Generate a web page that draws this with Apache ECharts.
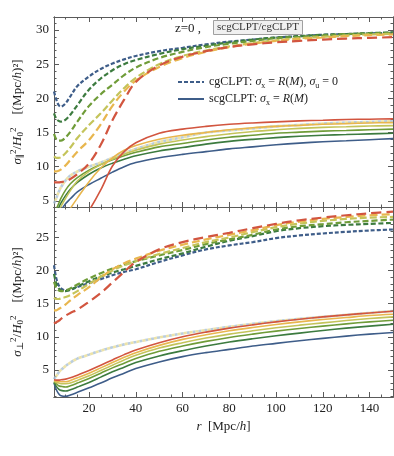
<!DOCTYPE html>
<html>
<head>
<meta charset="utf-8">
<script src="https://cdn.jsdelivr.net/npm/echarts@6/dist/echarts.min.js"></script>
<style>
  html, body { margin: 0; padding: 0; background: #fff; }
  #chart { width: 394px; height: 456px; }
</style>
</head>
<body>
<div id="chart"></div>
<script>
// separation r [Mpc/h]
const r = [5, 6, 7, 8, 10, 12, 15, 20, 25, 30, 35, 40, 50, 60, 70, 80, 90, 100, 110, 120, 130, 140, 150];

// order of every group: blue, dark green, green, yellow-green, yellow, red
// top panel, cgCLPT (dashed)
const parCg = [
  [21.0, 19.8, 19.0, 18.8, 19.3, 20.3, 21.8, 23.2, 24.3, 25.1, 25.7, 26.2, 26.9, 27.4, 27.9, 28.3, 28.6, 28.9, 29.1, 29.3, 29.4, 29.5, 29.6],
  [17.8, 17.0, 16.7, 16.6, 16.9, 17.6, 19.0, 21.3, 22.9, 24.1, 25.0, 25.6, 26.5, 27.2, 27.7, 28.2, 28.6, 28.9, 29.1, 29.3, 29.4, 29.55, 29.65],
  [14.8, 14.0, 13.8, 13.8, 14.3, 15.1, 16.6, 18.9, 20.6, 22.0, 23.4, 24.5, 25.9, 26.8, 27.5, 28.0, 28.4, 28.8, 29.0, 29.2, 29.4, 29.5, 29.6],
  [11.5, 11.3, 11.3, 11.4, 12.0, 12.8, 14.2, 16.1, 17.8, 19.7, 21.5, 23.0, 25.0, 26.2, 27.0, 27.6, 28.1, 28.5, 28.8, 29.0, 29.2, 29.35, 29.45],
  [9.3, 9.3, 9.4, 9.6, 10.2, 11.0, 12.2, 13.9, 16.2, 18.9, 21.0, 22.6, 24.6, 25.9, 26.8, 27.5, 28.0, 28.4, 28.7, 28.9, 29.1, 29.25, 29.35],
  [7.7, 7.7, 7.7, 7.75, 7.9, 8.2, 8.9, 10.5, 13.2, 16.8, 19.8, 22.4, 24.8, 26.1, 26.9, 27.5, 27.9, 28.2, 28.4, 28.6, 28.75, 28.85, 28.95]
];
// top panel, scgCLPT (solid)
const parScg = [
  [1.5, 2.3, 3.0, 3.6, 4.6, 5.3, 6.3, 7.4, 8.3, 9.2, 10.0, 10.6, 11.3, 11.8, 12.2, 12.6, 12.9, 13.2, 13.45, 13.65, 13.8, 13.95, 14.1],
  [2.5, 3.3, 4.0, 4.7, 5.8, 6.7, 7.7, 8.9, 9.8, 10.5, 11.1, 11.6, 12.3, 12.8, 13.3, 13.7, 14.0, 14.25, 14.45, 14.6, 14.7, 14.8, 14.9],
  [3.0, 3.8, 4.6, 5.4, 6.6, 7.5, 8.4, 9.5, 10.3, 11.0, 11.6, 12.1, 12.9, 13.4, 13.9, 14.3, 14.6, 14.9, 15.05, 15.2, 15.3, 15.4, 15.5],
  [2.0, 2.8, 3.5, 4.2, 5.4, 6.5, 7.9, 9.3, 10.3, 11.1, 11.8, 12.4, 13.3, 13.9, 14.4, 14.8, 15.15, 15.4, 15.6, 15.75, 15.85, 15.95, 16.0],
  [0.5, 1.0, 1.4, 1.8, 2.8, 3.9, 5.4, 7.8, 9.8, 11.3, 12.4, 13.1, 14.0, 14.6, 15.0, 15.4, 15.7, 15.9, 16.05, 16.2, 16.3, 16.4, 16.45],
  [-2.0, -1.7, -1.4, -1.1, -0.5, 0.2, 1.2, 3.6, 6.6, 10.1, 12.2, 13.5, 14.9, 15.5, 15.9, 16.2, 16.4, 16.55, 16.7, 16.8, 16.9, 16.95, 17.0]
];
// light overlapping curve, top panel
const parLight = [4.6, 5.4, 6.3, 7.0, 8.0, 8.7, 9.3, 10.0, 10.6, 11.3, 12.0, 12.6, 13.6, 14.3, 15.0, 15.3, 15.6, 15.9, 16.1, 16.3, 16.45, 16.55, 16.65];

// bottom panel, cgCLPT (dashed)
const perpCg = [
  [20.8, 18.8, 17.8, 17.3, 17.0, 17.1, 17.5, 18.1, 18.7, 19.3, 19.8, 20.2, 21.3, 22.3, 23.2, 23.8, 24.3, 24.9, 25.3, 25.6, 25.85, 26.05, 26.2],
  [19.5, 18.0, 17.3, 17.0, 16.9, 17.1, 17.6, 18.4, 19.1, 19.7, 20.2, 20.7, 21.7, 22.6, 23.6, 24.5, 25.2, 25.95, 26.4, 26.7, 26.9, 27.05, 27.2],
  [18.3, 17.4, 17.0, 16.9, 17.0, 17.3, 17.9, 18.8, 19.6, 20.3, 20.9, 21.4, 22.3, 23.1, 24.0, 24.7, 25.4, 26.2, 26.7, 27.0, 27.3, 27.5, 27.7],
  [15.9, 15.7, 15.7, 15.8, 16.0, 16.3, 16.9, 18.0, 19.1, 20.0, 20.8, 21.4, 22.5, 23.4, 24.3, 25.0, 25.8, 26.55, 27.1, 27.5, 27.8, 28.0, 28.1],
  [14.0, 14.0, 14.2, 14.4, 14.9, 15.5, 16.3, 17.5, 18.9, 20.2, 21.1, 21.8, 23.0, 23.9, 24.7, 25.4, 26.1, 26.85, 27.4, 27.8, 28.1, 28.35, 28.5],
  [12.0, 12.2, 12.4, 12.7, 13.2, 13.6, 14.1, 15.3, 16.6, 18.2, 19.8, 21.3, 23.2, 24.3, 25.05, 25.7, 26.4, 27.05, 27.6, 28.0, 28.35, 28.65, 28.9]
];
// bottom panel, scgCLPT (solid)
const perpScg = [
  [3.0, 2.0, 1.4, 1.1, 1.0, 1.2, 1.6, 2.3, 3.0, 3.8, 4.5, 5.2, 6.2, 7.0, 7.6, 8.1, 8.6, 9.0, 9.4, 9.75, 10.1, 10.4, 10.65],
  [3.1, 2.5, 2.1, 1.9, 1.8, 2.0, 2.4, 3.1, 3.9, 4.7, 5.4, 6.1, 7.1, 7.9, 8.6, 9.2, 9.7, 10.15, 10.55, 10.95, 11.3, 11.6, 11.9],
  [3.2, 2.9, 2.6, 2.5, 2.4, 2.6, 3.0, 3.7, 4.5, 5.3, 6.0, 6.7, 7.8, 8.6, 9.3, 9.9, 10.4, 10.85, 11.25, 11.6, 11.95, 12.25, 12.5],
  [3.3, 3.1, 3.0, 2.9, 2.9, 3.0, 3.4, 4.1, 4.9, 5.7, 6.5, 7.2, 8.3, 9.1, 9.8, 10.4, 10.9, 11.35, 11.75, 12.1, 12.45, 12.75, 13.0],
  [3.4, 3.3, 3.2, 3.2, 3.2, 3.4, 3.8, 4.5, 5.3, 6.1, 6.9, 7.6, 8.7, 9.6, 10.3, 10.9, 11.4, 11.85, 12.25, 12.6, 12.9, 13.2, 13.4],
  [3.5, 3.45, 3.45, 3.5, 3.6, 3.8, 4.2, 4.9, 5.7, 6.5, 7.3, 8.0, 9.1, 10.0, 10.7, 11.3, 11.8, 12.25, 12.65, 13.0, 13.3, 13.6, 13.85]
];
// light overlapping curve, bottom panel
const perpLight = [3.6, 4.1, 4.6, 5.0, 5.6, 6.1, 6.7, 7.3, 7.9, 8.4, 8.85, 9.2, 9.9, 10.5, 11.0, 11.5, 11.95, 12.35, 12.7, 13.0, 13.3, 13.6, 13.9];

const xMajor = [20, 40, 60, 80, 100, 120, 140];
const xMinor = [5, 10, 15, 25, 30, 35, 45, 50, 55, 65, 70, 75, 85, 90, 95, 105, 110, 115, 125, 130, 135, 145, 150];
const topMajor = [5, 10, 15, 20, 25, 30];
const botMajor = [5, 10, 15, 20, 25];

const colors = ['#3e5d89', '#3c7b3f', '#6f9c38', '#c4c45a', '#e8b64e', '#d2553f'];
const dashes = [[4, 2], [5, 2.5], [6, 3], [7, 3], [8, 4], [10, 5]];
const frame = '#5a5a5a';
const serif = "'Liberation Serif', 'DejaVu Serif', serif";

function range(a, b) {
  const out = [];
  for (let v = a; v <= b; v++) out.push(v);
  return out;
}

function xAxes(g, withLabels) {
  const base = {
    type: 'value', gridIndex: g, min: 5, max: 150,
    splitLine: { show: false },
    axisLine: { show: true, onZero: false, lineStyle: { color: frame, width: 1 } },
    axisLabel: { show: false }
  };
  const main = Object.assign({}, base, {
    position: 'bottom',
    axisTick: { inside: true, length: 5, customValues: xMajor, lineStyle: { color: frame } },
    axisLabel: { show: withLabels, customValues: xMajor, color: '#222', fontFamily: serif, fontSize: 13, margin: 5 }
  });
  if (withLabels) {
    main.name = '{i|r}  [Mpc/{i|h}]';
    main.nameLocation = 'middle';
    main.nameGap = 23;
    main.nameTextStyle = {
      fontFamily: serif, fontSize: 13, color: '#222',
      rich: { i: { fontStyle: 'italic', fontFamily: serif, fontSize: 13 } }
    };
  }
  return [
    main,
    Object.assign({}, base, { position: 'bottom', axisTick: { inside: true, length: 2.5, customValues: xMinor, lineStyle: { color: frame } } }),
    Object.assign({}, base, { position: 'top', axisTick: { inside: true, length: 5, customValues: xMajor, lineStyle: { color: frame } } }),
    Object.assign({}, base, { position: 'top', axisTick: { inside: true, length: 2.5, customValues: xMinor, lineStyle: { color: frame } } })
  ];
}

function yAxes(g, min, max, majors, sym) {
  const base = {
    type: 'value', gridIndex: g, min: min, max: max,
    splitLine: { show: false },
    axisLine: { show: true, onZero: false, lineStyle: { color: frame, width: 1 } },
    axisLabel: { show: false }
  };
  const minors = range(Math.ceil(min), Math.floor(max)).filter(v => majors.indexOf(v) < 0);
  const rich = {
    i: { fontStyle: 'italic', fontFamily: serif, fontSize: 13 },
    sup: { fontFamily: serif, fontSize: 9, verticalAlign: 'top' },
    sub: { fontFamily: serif, fontSize: 9, verticalAlign: 'bottom' }
  };
  return [
    Object.assign({}, base, {
      position: 'left',
      axisTick: { inside: true, length: 5, customValues: majors, lineStyle: { color: frame } },
      axisLabel: { show: true, customValues: majors, color: '#222', fontFamily: serif, fontSize: 13, margin: 5 },
      name: '{i|σ}{sub|' + sym + '}{sup|2}/{i|H}{sub|0}{sup|2}    [(Mpc/{i|h})²]',
      nameLocation: 'middle', nameRotate: 90, nameGap: 25,
      nameTextStyle: { fontFamily: serif, fontSize: 13, color: '#222', lineHeight: 16, rich: rich }
    }),
    Object.assign({}, base, { position: 'left', axisTick: { inside: true, length: 2.5, customValues: minors, lineStyle: { color: frame } } }),
    Object.assign({}, base, { position: 'right', axisTick: { inside: true, length: 5, customValues: majors, lineStyle: { color: frame } } }),
    Object.assign({}, base, { position: 'right', axisTick: { inside: true, length: 2.5, customValues: minors, lineStyle: { color: frame } } })
  ];
}

function curve(name, ys, g, color, type, width, extra) {
  return Object.assign({
    name: name, type: 'line', xAxisIndex: g * 4, yAxisIndex: g * 4,
    data: r.map((x, i) => [x, ys[i]]),
    smooth: 0.35, symbol: 'none', showSymbol: false, silent: true, clip: true,
    itemStyle: { color: color },
    lineStyle: { color: color, width: width, type: type, cap: 'butt' }
  }, extra || {});
}

const series = [];
[[parCg, parScg, parLight], [perpCg, perpScg, perpLight]].forEach(function (set, g) {
  series.push(curve('light-b' + g, set[2], g, '#a9c0d6', [3, 3], 2.6, { lineStyle: { color: '#a9c0d6', width: 2.6, type: [3, 3], opacity: 0.8 } }));
  series.push(curve('light-y' + g, set[2], g, '#e8dc92', [3, 3], 2.6, { lineStyle: { color: '#e8dc92', width: 2.6, type: [3, 3], dashOffset: 3, opacity: 0.8 } }));
  set[1].forEach(function (ys, k) {
    const name = (g === 0 && k === 0) ? 'scg' : 'scg' + g + k;
    series.push(curve(name, ys, g, colors[k], 'solid', 1.6));
  });
  set[0].forEach(function (ys, k) {
    const name = (g === 0 && k === 0) ? 'cg' : 'cg' + g + k;
    series.push(curve(name, ys, g, colors[k], dashes[k], 2.2));
  });
});

const legendText = {
  cg: '{a|cgCLPT: }{i|σ}{sub|x}{a| = }{i|R}{a|(}{i|M}{a|), }{i|σ}{sub|u}{a| = 0}',
  scg: '{a|scgCLPT: }{i|σ}{sub|x}{a| = }{i|R}{a|(}{i|M}{a|)}'
};

const chart = echarts.init(document.getElementById('chart'), null, { renderer: 'canvas' });
chart.setOption({
  animation: false,
  backgroundColor: '#fff',
  title: [
    { text: 'z=0 ,', left: 170, top: 17, textStyle: { fontFamily: serif, fontSize: 13, fontWeight: 'normal', color: '#222' } },
    {
      text: 'scgCLPT/cgCLPT', left: 213, top: 20, padding: [2, 4],
      backgroundColor: '#f0f0f0', borderColor: '#a0a0a0', borderWidth: 1,
      textStyle: { fontFamily: serif, fontSize: 11, fontWeight: 'normal', color: '#333' }
    }
  ],
  legend: {
    data: ['cg', 'scg'],
    orient: 'vertical', left: 172, top: 71,
    itemWidth: 26, itemHeight: 8, itemGap: 3,
    itemStyle: { opacity: 0, borderWidth: 0 },
    formatter: function (name) { return legendText[name]; },
    textStyle: {
      fontFamily: serif, fontSize: 12, color: '#222',
      rich: {
        a: { fontFamily: serif, fontSize: 12 },
        i: { fontFamily: serif, fontSize: 12, fontStyle: 'italic' },
        sub: { fontFamily: serif, fontSize: 8, verticalAlign: 'bottom', lineHeight: 16 }
      }
    }
  },
  grid: [
    { left: 54, right: 1, top: 17, height: 190 },
    { left: 54, right: 1, top: 207, height: 190 }
  ],
  xAxis: xAxes(0, false).concat(xAxes(1, true)),
  yAxis: yAxes(0, 4.1, 31.9, topMajor, '∥').concat(yAxes(1, 0.9, 29.6, botMajor, '⊥')),
  series: series
});
</script>
</body>
</html>
